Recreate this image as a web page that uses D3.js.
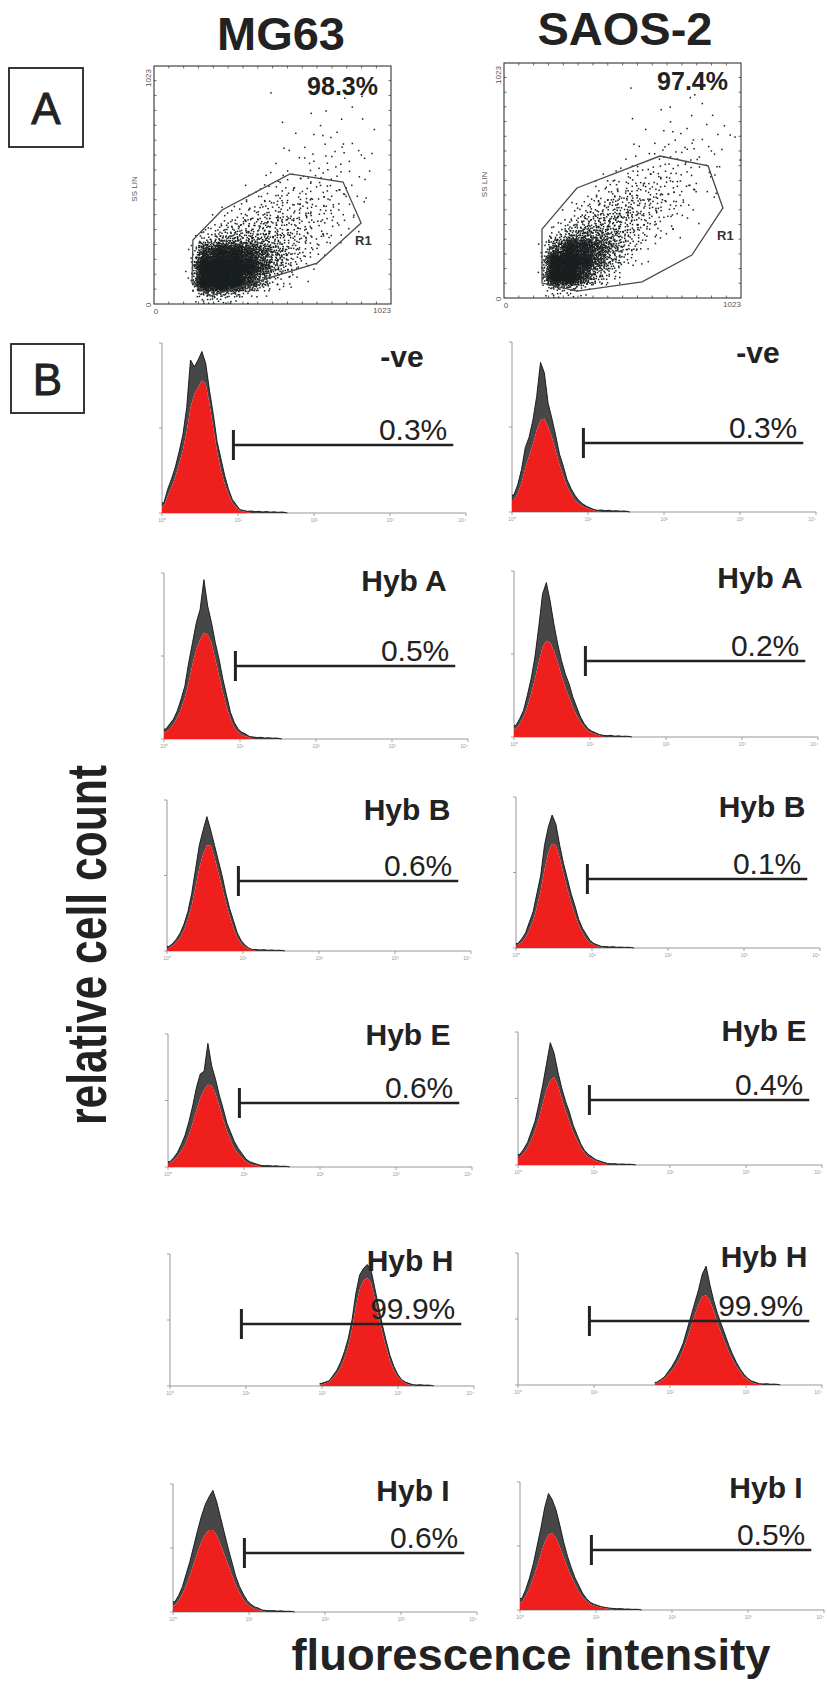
<!DOCTYPE html>
<html>
<head>
<meta charset="utf-8">
<script src="https://cdn.jsdelivr.net/npm/d3@7"></script>
<style>
  html, body { margin: 0; padding: 0; background: #fff; }
  svg { display: block; }
</style>
</head>
<body>
<svg id="fig" width="827" height="1684"></svg>
<script>
// ---------------- data ----------------
const cellLines = ["MG63", "SAOS-2"];
const r1Percent = ["98.3%", "97.4%"];
const samples = ["-ve", "Hyb A", "Hyb B", "Hyb E", "Hyb H", "Hyb I"];
const mg63Positive = ["0.3%", "0.5%", "0.6%", "0.6%", "99.9%", "0.6%"];
const saos2Positive = ["0.3%", "0.2%", "0.1%", "0.4%", "99.9%", "0.5%"];
const decadeTicks = [1, 10, 100, 1000, 10000];
const decadeLabels = ["10\u2070", "10\u00b9", "10\u00b2", "10\u00b3", "10\u2074"];
const markerRange = [8.7, 6800];           // fluorescence marker gate
const binWidth = 0.05;                      // decades per histogram bin

// histogram start (log10 of fluorescence) per sample
const mg63Start = [0, 0, 0, 0, 1.97, 0];
const saos2Start = [0, 0, 0, 0, 1.8, 0];

// spike tops of each histogram, % of full scale
const mg63Peak = [
  [6,14,20,27,36,46,62,90,86,90,95,88,72,58,42,32,22,14,8,5,2,1.5,1,1.2,0.8,1,0.6,0.9,0.5,0.7,0.4,0.6,0.3],
  [6,9,12,17,24,32,46,58,70,78,96,80,70,58,48,36,26,16,10,6,4,3,1.5,1.2,0.9,1,0.6,0.8,0.5,0.6,0.3],
  [3,5,8,12,18,26,38,54,70,80,89,80,70,60,50,38,28,20,12,7,4,2,1,1,0.7,0.9,0.5,0.7,0.4,0.5,0.3],
  [4,7,11,17,24,34,46,60,70,72,93,76,66,54,44,33,26,19,14,10,6,4,3,2,1.2,1,1.1,0.7,0.9,0.5,0.6,0.4],
  [2,3,4,8,12,18,26,36,50,70,84,89,92,88,74,60,46,34,23,15,9,5,3,2,1,0.8,1,0.6,0.7,0.4],
  [8,13,20,30,40,52,64,75,84,90,95,86,74,62,50,39,28,20,14,9,6,4,3,1.5,1.2,1,1.1,0.7,0.9,0.5,0.6,0.4]
];
// body (lower envelope) of each histogram, % of full scale
const mg63Body = [
  [4,10,15,21,29,37,48,62,70,74,78,76,64,50,36,25,17,11,6,3.5,1.5,1,0.5],
  [4,6,9,13,18,25,34,45,54,60,64,63,58,48,38,28,19,12,7,4,2.5,1.5,1],
  [2,3.5,6,9,14,21,30,42,55,64,70,70,62,52,42,32,23,15,9,5,2.5,1.5,0.5],
  [3,5,8,12,17,24,33,43,52,58,62,61,55,46,36,27,20,14,10,7,4,2.5,1.5,1],
  [1,2,3,6,9,14,21,30,43,60,73,80,82,78,66,52,40,29,19,12,7,4,2,1,0.5],
  [5,9,14,21,29,38,47,55,61,64,64,60,53,45,37,29,21,15,10,6.5,4,2.5,1.5,1]
];
const saos2Peak = [
  [10,16,25,38,44,54,68,88,82,64,55,45,34,27,19,14,10,7,5,3.5,2.5,1.5,1,1.2,0.8,1,0.6,0.8,0.5,0.6,0.3],
  [7,11,16,25,35,48,66,86,93,82,68,56,46,38,32,24,18,12,8,5,3.5,2.5,1.5,1,0.8,1,0.5,0.7,0.4,0.5,0.3],
  [3,6,10,17,24,36,48,68,80,88,82,68,56,46,36,28,19,13,9,5,3,2,1,1,0.7,0.9,0.5,0.6,0.4,0.5,0.3],
  [8,12,17,25,33,46,60,76,92,84,70,58,48,40,30,23,16,11,8,6,4,3,2,1.2,0.9,1,0.6,0.8,0.5,0.6,0.3],
  [2,4,6,10,14,19,25,32,42,52,62,72,84,90,76,64,54,46,38,30,23,17,12,8,5,3,2,1,0.8,1,0.6,0.7,0.4],
  [9,16,25,36,50,64,80,91,86,78,66,53,42,33,25,19,13,9,6,4.5,3.5,2.5,2,1.5,1.2,1,1.1,0.7,0.8,0.5,0.6,0.4]
];
const saos2Body = [
  [7,11,17,26,33,40,48,54,55,50,44,36,28,21,15,11,7,5,3.5,2.5,1.5,1,0.5],
  [5,8,12,18,26,35,45,54,58,57,52,45,37,30,24,18,13,9,6,3.5,2.5,1.5,1],
  [2,4,7,12,18,27,38,52,63,69,68,60,49,39,30,22,15,10,6,3.5,2,1,0.5],
  [6,9,13,19,26,35,46,57,64,66,60,50,41,33,25,19,13,9,6,4.5,3,2,1],
  [1,3,5,8,11,15,20,27,35,44,53,61,67,68,64,56,47,39,32,25,19,14,10,6,4,2,1,0.5],
  [6,11,17,25,34,44,53,59,60,56,49,41,33,26,20,14,10,7,4.5,3.5,2.5,1.8,1.3,1]
];

// FS/SS event counts on a 16 x 16 grid of 64-channel cells (top row = SS 960-1023)
const mg63Events = [
  [0,0,0,0,0,0,0,0,0,0,0,0,0,0,0,0],
  [0,0,0,0,0,0,0,1,0,0,0,0,0,1,0,0],
  [0,0,0,0,0,0,0,0,0,0,0,1,0,1,0,0],
  [0,0,0,0,0,0,0,0,0,0,1,0,1,1,1,0],
  [0,0,0,0,0,0,0,0,0,1,1,2,2,1,1,0],
  [0,0,0,0,0,0,0,0,1,2,2,2,2,2,1,0],
  [0,0,0,0,0,0,0,0,2,2,3,3,3,2,1,0],
  [0,0,0,0,0,0,0,2,3,4,5,5,4,3,1,0],
  [0,0,0,0,0,0,3,5,7,8,8,7,5,3,1,0],
  [0,0,0,0,0,5,8,12,15,14,12,9,6,3,0,0],
  [0,0,0,0,8,15,22,25,25,20,14,9,5,2,0,0],
  [0,0,0,15,35,45,45,40,30,20,12,6,3,0,0,0],
  [0,0,0,150,250,240,170,100,50,22,9,3,0,0,0,0],
  [0,0,0,450,560,480,300,120,40,12,4,0,0,0,0,0],
  [0,0,0,420,520,380,150,40,10,2,0,0,0,0,0,0],
  [0,0,0,15,15,8,0,0,0,0,0,0,0,0,0,0]
];
const saos2Events = [
  [0,0,0,0,0,0,0,0,0,0,0,0,0,0,0,0],
  [0,0,0,0,0,0,0,0,0,1,0,0,0,0,0,0],
  [0,0,0,0,0,0,0,0,0,0,0,0,1,1,0,0],
  [0,0,0,0,0,0,0,0,0,0,1,1,1,1,1,0],
  [0,0,0,0,0,0,0,0,0,1,1,2,2,2,1,1],
  [0,0,0,0,0,0,0,0,1,2,2,3,3,2,2,1],
  [0,0,0,0,0,0,0,0,2,3,4,4,4,3,2,1],
  [0,0,0,0,0,0,0,3,5,7,8,7,5,3,2,0],
  [0,0,0,0,0,0,5,9,12,14,12,9,5,2,1,0],
  [0,0,0,0,0,8,15,22,24,20,14,8,4,1,0,0],
  [0,0,0,0,8,22,35,38,30,20,10,5,2,0,0,0],
  [0,0,0,8,35,60,60,45,25,12,5,2,0,0,0,0],
  [0,0,0,80,220,210,130,60,20,6,0,0,0,0,0,0],
  [0,0,0,320,440,260,100,30,8,0,0,0,0,0,0,0],
  [0,0,0,380,400,130,30,8,0,0,0,0,0,0,0,0],
  [0,0,0,12,10,3,0,0,0,0,0,0,0,0,0,0]
];
// R1 gate vertices, [FS channel, SS channel]
const mg63R1 = [[168,275],[294,404],[587,559],[816,524],[894,348],[704,176],[242,34],[164,90]];
const saos2R1 = [[164,300],[315,479],[673,618],[881,575],[945,392],[811,187],[596,70],[315,30],[164,65]];

// ---------------- layout ----------------
const FONT = "'Liberation Sans', Arial, Helvetica, sans-serif";
const INK = "#222";
const scatterFrames = [
  { x0: 154, x1: 391, yBottom: 304, yTop: 66, pctX: 378, pctY: 95, r1X: 355, r1Y: 245 },
  { x0: 504, x1: 741, yBottom: 298, yTop: 63, pctX: 728, pctY: 90, r1X: 717, r1Y: 240 }
];
const histBase = [[513, 739, 951, 1167, 1386, 1612], [512, 737, 948, 1165, 1385, 1610]];
const histX0 = [[162, 164, 167, 168, 170, 173], [512, 514, 516, 518, 518, 520]];
const histH = [170, 166, 151, 133, 132, 128];
const histLabelY = [[367, 591, 820, 1045, 1271, 1501], [363, 588, 817, 1041, 1267, 1498]];
const gateRise = [[68, 73, 70, 64, 62, 59], [69, 76, 69, 65, 64, 60]];
const labelOffset = [240, 246];
const plotW = 304;

const svg = d3.select("#fig").attr("font-family", FONT);

// ---------------- headings & panel letters ----------------
svg.append("text").attr("x", 281).attr("y", 50).attr("text-anchor", "middle")
  .attr("font-size", 47).attr("font-weight", "bold").attr("fill", INK).text(cellLines[0]);
svg.append("text").attr("x", 625).attr("y", 45).attr("text-anchor", "middle")
  .attr("font-size", 47).attr("font-weight", "bold").attr("fill", INK).text(cellLines[1]);

function panelLetter(x, y, w, h, letter) {
  svg.append("rect").attr("x", x).attr("y", y).attr("width", w).attr("height", h)
    .attr("fill", "none").attr("stroke", INK).attr("stroke-width", 1.8);
  svg.append("text").attr("x", x + w / 2).attr("y", y + h / 2 + 16).attr("text-anchor", "middle")
    .attr("font-size", 44).attr("fill", INK).attr("stroke", INK).attr("stroke-width", 0.9)
    .text(letter);
}
panelLetter(9, 68, 74, 79, "A");
panelLetter(11, 344, 73, 69, "B");

// ---------------- side scatter vs forward scatter ----------------
function halton(i, b) {
  let f = 1, r = 0;
  while (i > 0) { f /= b; r += f * (i % b); i = Math.floor(i / b); }
  return r;
}

function drawScatter(frame, events, r1, pct) {
  const x = d3.scaleLinear().domain([0, 1023]).range([frame.x0, frame.x1]);
  const y = d3.scaleLinear().domain([0, 1023]).range([frame.yBottom, frame.yTop]);
  const g = svg.append("g");

  // spread each grid cell's events as a soft stipple around the cell centre
  const dots = [];
  events.forEach((row, r) => {
    const cy = 15 - r;
    row.forEach((n, cx) => {
      const seed = (cy * 16 + cx) * 61 + 11;
      for (let k = 0; k < n; k++) {
        const u = Math.max(halton(seed + k, 2), 1e-3), v = halton(seed + k, 3);
        const rad = Math.sqrt(-2 * Math.log(u)) * 0.38;
        const fs = (cx + 0.5 + rad * Math.cos(2 * Math.PI * v)) * 64;
        const ss = (cy + 0.5 + rad * Math.sin(2 * Math.PI * v)) * 64;
        dots.push([Math.max(3, Math.min(1020, fs)), Math.max(3, Math.min(1020, ss))]);
      }
    });
  });
  g.append("g").selectAll("rect").data(dots).join("rect")
    .attr("x", d => x(d[0]) - 0.75).attr("y", d => y(d[1]) - 0.75)
    .attr("width", 1.5).attr("height", 1.5).attr("fill", "#1a1f1f");

  // frame with channel ticks
  g.append("rect").attr("x", frame.x0).attr("y", frame.yTop)
    .attr("width", frame.x1 - frame.x0).attr("height", frame.yBottom - frame.yTop)
    .attr("fill", "none").attr("stroke", "#333").attr("stroke-width", 1.1);
  const ch = d3.range(64, 1023, 64);
  const tick = (x1, x2, y1, y2) => g.append("g").selectAll("line").data(ch).join("line")
    .attr("x1", x1).attr("x2", x2).attr("y1", y1).attr("y2", y2)
    .attr("stroke", "#444").attr("stroke-width", 0.8);
  tick(d => x(d), d => x(d), frame.yBottom, frame.yBottom - 2.5);
  tick(d => x(d), d => x(d), frame.yTop, frame.yTop + 2.5);
  tick(frame.x0, frame.x0 + 2.5, d => y(d), d => y(d));
  tick(frame.x1, frame.x1 - 2.5, d => y(d), d => y(d));

  // axis annotations
  const t = (tx, ty, s, rot) => {
    const e = g.append("text").attr("text-anchor", "middle").attr("font-size", 8)
      .attr("fill", "#555").text(s);
    if (rot) e.attr("transform", `translate(${tx},${ty}) rotate(-90)`);
    else e.attr("x", tx).attr("y", ty);
  };
  t(x(0) - 3, y(1023) + 12, "1023", true);
  t(x(0) - 3, y(0) + 1, "0", true);
  t(x(0) + 2, y(0) + 10, "0");
  t(x(1023) - 9, y(0) + 9, "1023");
  t(frame.x0 - 17, (frame.yTop + frame.yBottom) / 2 + 4, "SS LIN", true);

  // R1 gate
  g.append("path").datum(r1)
    .attr("d", d3.line().x(d => x(d[0])).y(d => y(d[1])).curve(d3.curveLinearClosed))
    .attr("fill", "none").attr("stroke", "#4a4a4a").attr("stroke-width", 1.3);
  g.append("text").attr("x", frame.r1X).attr("y", frame.r1Y).attr("font-size", 13)
    .attr("font-weight", "bold").attr("fill", "#333").text("R1");
  g.append("text").attr("x", frame.pctX).attr("y", frame.pctY).attr("text-anchor", "end")
    .attr("font-size", 25).attr("font-weight", "bold").attr("fill", INK).text(pct);
}

drawScatter(scatterFrames[0], mg63Events, mg63R1, r1Percent[0]);
drawScatter(scatterFrames[1], saos2Events, saos2R1, r1Percent[1]);

// ---------------- fluorescence histograms ----------------
function drawHistogram(col, row, start, peak, body, label, positive) {
  const x0 = histX0[col][row], base = histBase[col][row], h = histH[row];
  const x = d3.scaleLog().domain([1, 10000]).range([x0, x0 + plotW]);
  const y = d3.scaleLinear().domain([0, 100]).range([base, base - h]);
  const g = svg.append("g");

  // axes
  g.append("line").attr("x1", x0).attr("x2", x0).attr("y1", base).attr("y2", base - h)
    .attr("stroke", "#8c8c8c").attr("stroke-width", 0.9);
  g.append("line").attr("x1", x0).attr("x2", x0 + plotW).attr("y1", base).attr("y2", base)
    .attr("stroke", "#8c8c8c").attr("stroke-width", 0.9);
  g.selectAll("line.yt").data([0, 50, 100]).join("line")
    .attr("x1", x0 - 3).attr("x2", x0).attr("y1", d => y(d)).attr("y2", d => y(d))
    .attr("stroke", "#8c8c8c").attr("stroke-width", 0.8);
  g.selectAll("line.xt").data(decadeTicks).join("line")
    .attr("x1", d => x(d)).attr("x2", d => x(d)).attr("y1", base).attr("y2", base + 3)
    .attr("stroke", "#8c8c8c").attr("stroke-width", 0.8);
  g.selectAll("text.xt").data(decadeTicks).join("text")
    .attr("x", d => x(d)).attr("y", base + 9)
    .attr("text-anchor", (d, i) => i === decadeTicks.length - 1 ? "end" : "middle")
    .attr("font-size", 5).attr("fill", "#999").text((d, i) => decadeLabels[i]);

  // histogram: red body, dark spike band and outline
  const pts = peak.map((p, i) => ({ lx: start + binWidth * (i + 0.5), p: p, b: body[i] || 0 }));
  const data = [{ lx: start, p: peak[0], b: body[0] || 0 }, ...pts,
                { lx: start + binWidth * peak.length, p: 0, b: 0 }];
  const px = d => x(Math.pow(10, d.lx));
  g.append("path").datum(data)
    .attr("d", d3.area().x(px).y0(d => y(d.b)).y1(d => y(d.p)))
    .attr("fill", "#2e2e2e").attr("fill-opacity", 0.88);
  g.append("path").datum(data)
    .attr("d", d3.area().x(px).y0(y(0)).y1(d => y(d.b)))
    .attr("fill", "#ef1f1d");
  g.append("path").datum(data)
    .attr("d", d3.line().x(px).y(d => y(d.p)))
    .attr("fill", "none").attr("stroke", "#111").attr("stroke-width", 0.9);

  // marker gate
  const gy = base - gateRise[col][row];
  g.append("line").attr("x1", x(markerRange[0])).attr("x2", x(markerRange[1]))
    .attr("y1", gy).attr("y2", gy).attr("stroke", INK).attr("stroke-width", 2.6);
  g.append("line").attr("x1", x(markerRange[0])).attr("x2", x(markerRange[0]))
    .attr("y1", gy - 15).attr("y2", gy + 15).attr("stroke", INK).attr("stroke-width", 3);
  g.append("text").attr("x", x(markerRange[1]) - 6).attr("y", gy - 5).attr("text-anchor", "end")
    .attr("font-size", 30).attr("fill", INK).text(positive);

  // sample name
  g.append("text").attr("x", x0 + labelOffset[col]).attr("y", histLabelY[col][row])
    .attr("text-anchor", "middle").attr("font-size", 30).attr("font-weight", "bold")
    .attr("fill", INK).text(label);
}

samples.forEach((s, i) => {
  drawHistogram(0, i, mg63Start[i], mg63Peak[i], mg63Body[i], s, mg63Positive[i]);
  drawHistogram(1, i, saos2Start[i], saos2Peak[i], saos2Body[i], s, saos2Positive[i]);
});

// ---------------- axis titles ----------------
svg.append("text").attr("transform", "translate(106,945) rotate(-90)")
  .attr("text-anchor", "middle").attr("font-size", 56).attr("font-weight", "bold")
  .attr("fill", INK).attr("textLength", 360).attr("lengthAdjust", "spacingAndGlyphs")
  .text("relative cell count");
svg.append("text").attr("x", 531).attr("y", 1670)
  .attr("text-anchor", "middle").attr("font-size", 45).attr("font-weight", "bold")
  .attr("fill", INK).attr("textLength", 479).attr("lengthAdjust", "spacingAndGlyphs")
  .text("fluorescence intensity");
</script>
</body>
</html>
